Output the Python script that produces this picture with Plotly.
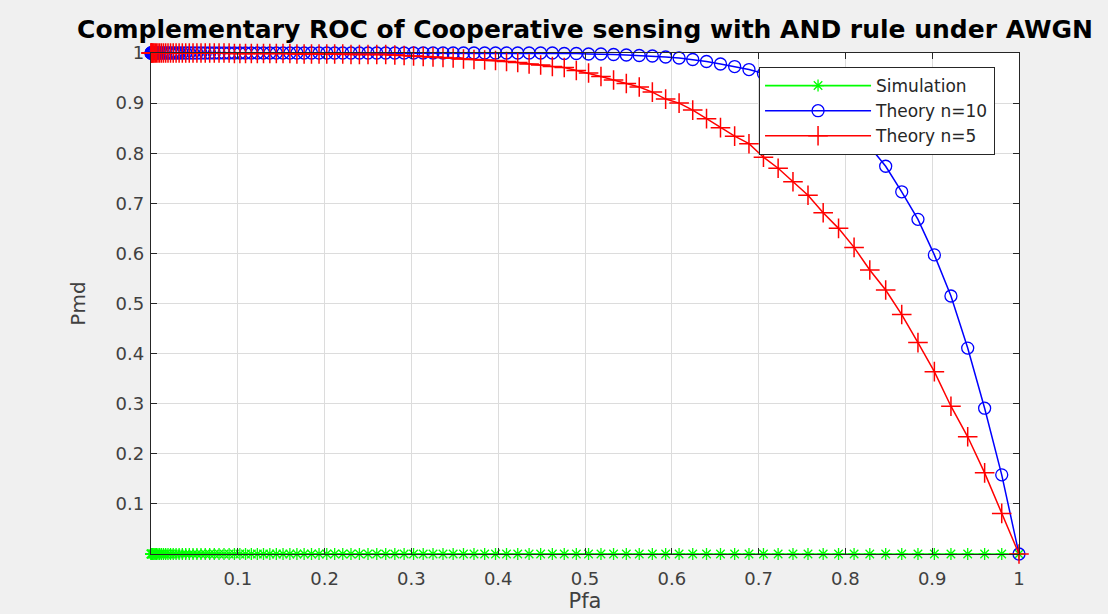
import plotly.graph_objects as go

# ---- data ----
pfa = [
    0.0, 0.0001, 0.0004, 0.0009, 0.0016, 0.0025, 0.0036, 0.0049, 0.0064, 0.0081,
    0.0100, 0.0121, 0.0144, 0.0169, 0.0196, 0.0225, 0.0256, 0.0289, 0.0324, 0.0361,
    0.0400, 0.0441, 0.0484, 0.0529, 0.0576, 0.0625, 0.0676, 0.0729, 0.0784, 0.0841,
    0.0900, 0.0961, 0.1024, 0.1089, 0.1156, 0.1225, 0.1296, 0.1369, 0.1444, 0.1521,
    0.1600, 0.1681, 0.1764, 0.1849, 0.1936, 0.2025, 0.2116, 0.2209, 0.2304, 0.2401,
    0.2500, 0.2601, 0.2704, 0.2809, 0.2916, 0.3025, 0.3136, 0.3249, 0.3364, 0.3481,
    0.3600, 0.3721, 0.3844, 0.3969, 0.4096, 0.4225, 0.4356, 0.4489, 0.4624, 0.4761,
    0.4900, 0.5041, 0.5184, 0.5329, 0.5476, 0.5625, 0.5776, 0.5929, 0.6084, 0.6241,
    0.6400, 0.6561, 0.6724, 0.6889, 0.7056, 0.7225, 0.7396, 0.7569, 0.7744, 0.7921,
    0.8100, 0.8281, 0.8464, 0.8649, 0.8836, 0.9025, 0.9216, 0.9409, 0.9604, 0.9801,
    1.0,
]

pmd_sim = [
    0, 0, 0, 0, 0, 0, 0, 0, 0, 0, 0, 0, 0, 0, 0, 0, 0, 0, 0, 0,
    0, 0, 0, 0, 0, 0, 0, 0, 0, 0, 0, 0, 0, 0, 0, 0, 0, 0, 0, 0,
    0, 0, 0, 0, 0, 0, 0, 0, 0, 0, 0, 0, 0, 0, 0, 0, 0, 0, 0, 0,
    0, 0, 0, 0, 0, 0, 0, 0, 0, 0, 0, 0, 0, 0, 0, 0, 0, 0, 0, 0,
    0, 0, 0, 0, 0, 0, 0, 0, 0, 0, 0, 0, 0, 0, 0, 0, 0, 0, 0, 0,
    0,
]

pmd_n10 = [
    1.0, 1.0, 1.0, 1.0, 1.0, 1.0, 1.0, 1.0, 1.0, 1.0,
    1.0, 1.0, 1.0, 1.0, 1.0, 1.0, 1.0, 1.0, 1.0, 1.0,
    1.0, 1.0, 1.0, 1.0, 1.0, 1.0, 1.0, 1.0, 1.0, 1.0,
    1.0, 1.0, 1.0, 1.0, 1.0, 1.0, 1.0, 1.0, 1.0, 1.0,
    1.0, 1.0, 1.0, 1.0, 1.0, 1.0, 1.0, 1.0, 1.0, 1.0,
    1.0, 1.0, 1.0, 1.0, 1.0, 1.0, 1.0, 1.0, 1.0, 1.0,
    1.0, 1.0, 1.0, 1.0, 1.0, 1.0, 1.0, 1.0, 1.0, 0.999,
    0.999, 0.998, 0.998, 0.997, 0.996, 0.995, 0.994, 0.992, 0.990, 0.987,
    0.983, 0.978, 0.973, 0.967, 0.959, 0.947, 0.934, 0.919, 0.898, 0.878,
    0.849, 0.813, 0.774, 0.723, 0.668, 0.597, 0.515, 0.411, 0.291, 0.158,
    0.0,
]

pmd_n5 = [
    1.0, 1.0, 1.0, 1.0, 1.0, 1.0, 1.0, 1.0, 1.0, 1.0,
    1.0, 1.0, 1.0, 1.0, 1.0, 1.0, 1.0, 1.0, 1.0, 1.0,
    1.0, 1.0, 1.0, 1.0, 1.0, 1.0, 1.0, 1.0, 1.0, 1.0,
    1.0, 0.999, 0.999, 0.999, 0.999, 0.999, 0.999, 0.999, 0.999, 0.999,
    0.999, 0.998, 0.998, 0.998, 0.998, 0.998, 0.998, 0.998, 0.997, 0.997,
    0.997, 0.997, 0.997, 0.996, 0.995, 0.994, 0.993, 0.992, 0.991, 0.990,
    0.988, 0.987, 0.986, 0.985, 0.983, 0.981, 0.978, 0.976, 0.973, 0.971,
    0.965, 0.960, 0.953, 0.946, 0.939, 0.932, 0.922, 0.908, 0.900, 0.886,
    0.869, 0.851, 0.834, 0.819, 0.792, 0.770, 0.743, 0.716, 0.681, 0.650,
    0.612, 0.567, 0.527, 0.478, 0.422, 0.364, 0.295, 0.234, 0.162, 0.081,
    0.0,
]

tick_vals = [0.1, 0.2, 0.3, 0.4, 0.5, 0.6, 0.7, 0.8, 0.9, 1.0]
tick_text = ["0.1", "0.2", "0.3", "0.4", "0.5", "0.6", "0.7", "0.8", "0.9", "1"]

FONT = "DejaVu Sans"
AX = "#262626"

fig = go.Figure()
fig.add_trace(go.Scatter(
    x=pfa, y=pmd_sim, name="Simulation", mode="lines+markers",
    line=dict(color="#00ff00", width=1.6),
    marker=dict(symbol="asterisk-open", size=10, color="#00ff00",
                line=dict(color="#00ff00", width=1.3)),
    cliponaxis=False,
))
fig.add_trace(go.Scatter(
    x=pfa, y=pmd_n10, name="Theory n=10", mode="lines+markers",
    line=dict(color="#0000ff", width=1.5),
    marker=dict(symbol="circle-open", size=12, color="#0000ff",
                line=dict(color="#0000ff", width=1.3)),
    cliponaxis=False,
))
fig.add_trace(go.Scatter(
    x=pfa, y=pmd_n5, name="Theory n=5", mode="lines+markers",
    line=dict(color="#ff0000", width=1.5),
    marker=dict(symbol="cross-thin-open", size=14, color="#ff0000",
                line=dict(color="#ff0000", width=1.5)),
    cliponaxis=False,
))

axis_common = dict(
    range=[0, 1], tickmode="array", tickvals=tick_vals, ticktext=tick_text,
    showgrid=True, gridcolor="#dcdcdc", gridwidth=1,
    showline=True, linecolor=AX, linewidth=1.3, mirror="ticks",
    ticks="inside", ticklen=6, tickcolor=AX, zeroline=False,
    tickfont=dict(family=FONT, size=18, color="#404040"),
    automargin=False,
)

fig.update_layout(
    width=1108, height=614,
    paper_bgcolor="#f0f0f0", plot_bgcolor="#ffffff",
    margin=dict(l=151, r=89, t=53, b=60),
    title=dict(
        text="<b>Complementary ROC of Cooperative sensing with AND rule under AWGN</b>",
        font=dict(family=FONT, size=25, color="#000000"),
        x=0.5, xref="paper", xanchor="center", y=0.952, yanchor="middle",
    ),
    xaxis=dict(**axis_common, ticklabelstandoff=8,
               title=dict(text="Pfa", standoff=2,
                          font=dict(family=FONT, size=21, color="#404040"))),
    yaxis=dict(**axis_common, ticklabelstandoff=2,
               title=dict(text="Pmd", standoff=24,
                          font=dict(family=FONT, size=20, color="#404040"))),
    legend=dict(
        x=0.9724, y=0.972, xanchor="right", yanchor="top",
        bgcolor="#ffffff", bordercolor=AX, borderwidth=1,
        font=dict(family=FONT, size=17, color="#262626"),
        tracegroupgap=0, itemwidth=106,
    ),
    showlegend=True,
)

fig.write_html(
    "out.html",
    config={"displayModeBar": False},
    post_script="document.body.style.margin='0';document.body.style.overflow='hidden';",
)
